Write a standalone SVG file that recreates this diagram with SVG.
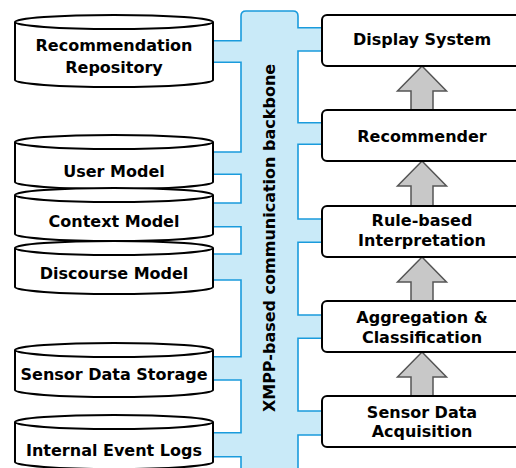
<svg xmlns="http://www.w3.org/2000/svg" width="516" height="468" viewBox="0 0 516 468">
  <style>
    .cyl { fill: #ffffff; stroke: #000000; stroke-width: 2; }
    .box { fill: #ffffff; stroke: #000000; stroke-width: 2; }
    .lbl { font-family: "DejaVu Sans", "Liberation Sans", sans-serif; font-weight: bold; font-size: 16px; fill: #000000; text-anchor: middle; }
    .arrow { fill: #c8c8c8; stroke: #555555; stroke-width: 1.5; stroke-linejoin: miter; }
    .bus { fill: #c9eaf8; stroke: #1a9bdc; stroke-width: 1.6; stroke-linejoin: miter; }
  </style>
  <rect width="516" height="468" fill="#ffffff"/>

  <g id="backbone">
    <path class="bus" d="M213,40.7 H241 V16 Q241,11 246,11 H293 Q298,11 298,16 V27.7 H322 V51 H298 V122.7 H322 V144.3 H298 V219 H322 V242.3 H298 V315 H322 V338.3 H298 V411 H322 V435 H298 V472 H241 V456.7 H213 V432.7 H241 V380 H213 V356.7 H241 V280 H213 V254 H241 V226.7 H213 V203 H241 V174.3 H213 V152 H241 V62.3 H213 Z"/>
    <text class="lbl" transform="translate(275,238) rotate(-90)">XMPP-based communication backbone</text>
  </g>

  <g id="connectors">
    <path class="arrow" d="M422,66 L446.5,91 H433 V110 H411 V91 H397.5 Z"/>
    <path class="arrow" d="M422,161 L446.5,186 H433 V206 H411 V186 H397.5 Z"/>
    <path class="arrow" d="M422,257 L446.5,282 H433 V301 H411 V282 H397.5 Z"/>
    <path class="arrow" d="M422,352 L446.5,377 H433 V396 H411 V377 H397.5 Z"/>
  </g>

  <g id="recommendation-repository">
    <path class="cyl" d="M15,22 A99,7 0 0,1 213,22 V80 A99,7 0 0,1 15,80 Z M15,22 A99,7 0 0,0 213,22"/>
    <text class="lbl" x="114" y="51">Recommendation</text>
    <text class="lbl" x="114" y="72.7">Repository</text>
  </g>

  <g id="user-model">
    <path class="cyl" d="M15,142 A99,7 0 0,1 213,142 V182 A99,7 0 0,1 15,182 Z M15,142 A99,7 0 0,0 213,142"/>
    <text class="lbl" x="114" y="176.7">User Model</text>
  </g>

  <g id="context-model">
    <path class="cyl" d="M15,195 A99,7 0 0,1 213,195 V234 A99,7 0 0,1 15,234 Z M15,195 A99,7 0 0,0 213,195"/>
    <text class="lbl" x="114" y="226.7">Context Model</text>
  </g>

  <g id="discourse-model">
    <path class="cyl" d="M15,248 A99,7 0 0,1 213,248 V287 A99,7 0 0,1 15,287 Z M15,248 A99,7 0 0,0 213,248"/>
    <text class="lbl" x="114" y="279">Discourse Model</text>
  </g>

  <g id="sensor-data-storage">
    <path class="cyl" d="M15,350 A99,7 0 0,1 213,350 V390 A99,7 0 0,1 15,390 Z M15,350 A99,7 0 0,0 213,350"/>
    <text class="lbl" x="114" y="380">Sensor Data Storage</text>
  </g>

  <g id="internal-event-logs">
    <path class="cyl" d="M15,422 A99,7 0 0,1 213,422 V462 A99,7 0 0,1 15,462 Z M15,422 A99,7 0 0,0 213,422"/>
    <text class="lbl" x="114" y="455.7">Internal Event Logs</text>
  </g>

  <g id="display-system">
    <rect class="box" x="322" y="15" width="200" height="51" rx="5"/>
    <text class="lbl" x="422" y="45.3">Display System</text>
  </g>

  <g id="recommender">
    <rect class="box" x="322" y="110" width="200" height="51" rx="5"/>
    <text class="lbl" x="422" y="141.7">Recommender</text>
  </g>

  <g id="rule-based-interpretation">
    <rect class="box" x="322" y="206" width="200" height="51" rx="5"/>
    <text class="lbl" x="422" y="226">Rule-based</text>
    <text class="lbl" x="422" y="246">Interpretation</text>
  </g>

  <g id="aggregation-classification">
    <rect class="box" x="322" y="301" width="200" height="51" rx="5"/>
    <text class="lbl" x="422" y="323.3">Aggregation &amp;</text>
    <text class="lbl" x="422" y="343.3">Classification</text>
  </g>

  <g id="sensor-data-acquisition">
    <rect class="box" x="322" y="396" width="200" height="51" rx="5"/>
    <text class="lbl" x="422" y="417.7">Sensor Data</text>
    <text class="lbl" x="422" y="436.7">Acquisition</text>
  </g>
</svg>
